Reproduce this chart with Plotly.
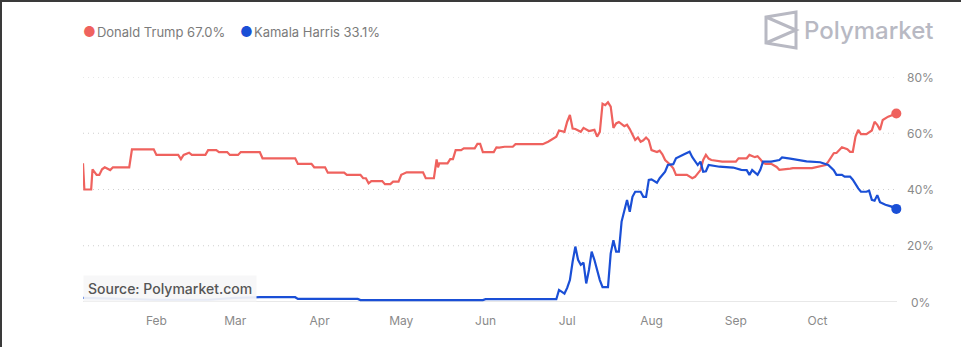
import plotly.graph_objects as go

# ---------------- data ----------------
trump_dates = [
    "2024-01-05 00:00", "2024-01-05 12:00", "2024-01-08 00:00", "2024-01-08 12:00", "2024-01-09", "2024-01-10",
    "2024-01-11", "2024-01-12", "2024-01-13", "2024-01-14", "2024-01-15", "2024-01-16", "2024-01-22", "2024-01-23", "2024-01-31",
    "2024-02-01", "2024-02-09", "2024-02-10", "2024-02-11", "2024-02-13", "2024-02-14", "2024-02-19", "2024-02-20",
    "2024-02-23", "2024-02-24", "2024-02-27", "2024-02-28",
    "2024-03-02", "2024-03-03", "2024-03-10", "2024-03-11", "2024-03-23", "2024-03-24", "2024-03-29", "2024-03-30",
    "2024-04-03", "2024-04-04", "2024-04-10", "2024-04-11", "2024-04-16", "2024-04-17", "2024-04-18", "2024-04-19",
    "2024-04-20", "2024-04-24", "2024-04-25", "2024-04-27", "2024-04-28", "2024-04-30",
    "2024-05-01", "2024-05-03", "2024-05-09", "2024-05-10", "2024-05-13", "2024-05-14 00:00", "2024-05-14 12:00", "2024-05-15",
    "2024-05-18", "2024-05-19", "2024-05-20", "2024-05-21", "2024-05-23", "2024-05-24", "2024-05-28", "2024-05-29",
    "2024-05-30", "2024-05-31",
    "2024-06-04", "2024-06-05", "2024-06-06", "2024-06-08", "2024-06-11", "2024-06-12", "2024-06-22", "2024-06-24",
    "2024-06-27", "2024-06-28", "2024-06-30",
    "2024-07-01", "2024-07-02", "2024-07-03", "2024-07-04", "2024-07-06", "2024-07-07", "2024-07-09", "2024-07-11",
    "2024-07-12", "2024-07-13", "2024-07-14", "2024-07-15", "2024-07-16", "2024-07-17", "2024-07-18", "2024-07-19",
    "2024-07-20", "2024-07-22", "2024-07-23", "2024-07-24", "2024-07-25", "2024-07-26", "2024-07-27", "2024-07-28",
    "2024-07-29", "2024-07-30", "2024-07-31",
    "2024-08-01", "2024-08-03", "2024-08-04", "2024-08-05", "2024-08-06", "2024-08-08", "2024-08-09", "2024-08-10",
    "2024-08-14", "2024-08-16", "2024-08-17", "2024-08-19", "2024-08-20", "2024-08-21", "2024-08-22", "2024-08-23",
    "2024-08-26", "2024-08-27",
    "2024-09-01", "2024-09-02", "2024-09-05", "2024-09-06", "2024-09-08", "2024-09-09", "2024-09-10", "2024-09-11",
    "2024-09-12", "2024-09-14", "2024-09-16", "2024-09-17", "2024-09-21", "2024-09-22", "2024-09-29",
    "2024-10-02", "2024-10-04", "2024-10-05", "2024-10-07", "2024-10-08", "2024-10-10", "2024-10-12", "2024-10-13",
    "2024-10-14", "2024-10-15", "2024-10-16", "2024-10-17", "2024-10-19", "2024-10-20", "2024-10-21", "2024-10-22",
    "2024-10-23", "2024-10-24", "2024-10-25", "2024-10-27", "2024-10-30",
]
trump_pct = [
    49.3, 40.0, 40.0, 47.2, 46.5, 45.2,
    45.2, 47.2, 47.9, 47.5, 46.9, 47.9, 47.9, 54.3, 54.3,
    52.3, 52.3, 50.8, 52.3, 53.1, 52.3, 52.3, 54.0,
    54.0, 53.3, 53.3, 52.3,
    52.3, 53.3, 53.3, 51.1, 51.1, 49.1, 49.1, 47.9,
    47.9, 46.0, 46.0, 45.2, 45.2, 44.0, 44.0, 42.2,
    43.0, 43.0, 41.9, 41.9, 42.8, 42.8,
    45.2, 46.1, 46.1, 44.0, 44.0, 50.7, 47.9, 49.3,
    49.3, 50.8, 50.8, 54.0, 54.0, 54.6, 54.6, 56.2,
    56.2, 53.3,
    53.3, 55.0, 54.9, 55.2, 55.2, 56.1, 56.1, 57.0,
    58.8, 61.0, 60.5,
    64.1, 66.5, 61.7, 61.5, 60.5, 61.9, 60.8, 61.2,
    58.8, 60.5, 70.5, 70.0, 71.0, 69.5, 61.9, 63.5,
    64.0, 62.5, 63.0, 61.5, 59.4, 57.6, 58.5, 57.0,
    57.5, 58.5, 57.5,
    54.0, 53.3, 53.8, 52.5, 50.5, 48.7, 47.5, 45.2,
    45.2, 44.0, 44.5, 46.9, 50.5, 52.3, 51.0, 50.5,
    49.9, 49.9,
    49.9, 51.1, 51.1, 52.3, 51.5, 51.8, 50.8, 49.5,
    49.1, 49.1, 48.0, 47.0, 47.4, 47.6, 47.6,
    48.3, 48.7, 49.9, 52.9, 53.0, 55.0, 54.3, 53.4,
    53.4, 58.8, 61.2, 59.7, 59.7, 60.3, 61.0, 64.1,
    63.0, 61.2, 64.7, 65.9, 67.0,
]

harris_dates = [
    "2024-01-05", "2024-01-20",
    "2024-02-01", "2024-02-20",
    "2024-03-01", "2024-03-10", "2024-03-23", "2024-03-24",
    "2024-04-15", "2024-04-16",
    "2024-05-31",
    "2024-06-01", "2024-06-27", "2024-06-28", "2024-06-30",
    "2024-07-01", "2024-07-02", "2024-07-03", "2024-07-04", "2024-07-05", "2024-07-06", "2024-07-07", "2024-07-08",
    "2024-07-09", "2024-07-10", "2024-07-11", "2024-07-12", "2024-07-13", "2024-07-14", "2024-07-16", "2024-07-17",
    "2024-07-18", "2024-07-19", "2024-07-20", "2024-07-21", "2024-07-22", "2024-07-23", "2024-07-24", "2024-07-25",
    "2024-07-26", "2024-07-28", "2024-07-29", "2024-07-30", "2024-07-31",
    "2024-08-01", "2024-08-03", "2024-08-04", "2024-08-06", "2024-08-07", "2024-08-09", "2024-08-10", "2024-08-13",
    "2024-08-15", "2024-08-16", "2024-08-18", "2024-08-19", "2024-08-20", "2024-08-21", "2024-08-22", "2024-08-26",
    "2024-08-31",
    "2024-09-03", "2024-09-05", "2024-09-06", "2024-09-07", "2024-09-09", "2024-09-10", "2024-09-11", "2024-09-14",
    "2024-09-17", "2024-09-18", "2024-09-21", "2024-09-24", "2024-09-27",
    "2024-10-02", "2024-10-04", "2024-10-05", "2024-10-07", "2024-10-08", "2024-10-10", "2024-10-11", "2024-10-13",
    "2024-10-14", "2024-10-16", "2024-10-17", "2024-10-19", "2024-10-20", "2024-10-21", "2024-10-22", "2024-10-23",
    "2024-10-24", "2024-10-26", "2024-10-28", "2024-10-30",
]
harris_pct = [
    1.5, 1.2,
    0.8, 0.8,
    1.5, 1.7, 1.7, 1.1,
    1.1, 0.7,
    0.7,
    1.0, 1.0, 4.3, 3.0,
    5.0, 7.8, 14.3, 19.7, 15.0, 13.2, 14.0, 6.6,
    11.4, 17.9, 15.0, 11.0, 7.8, 5.3, 5.3, 17.3,
    22.0, 17.9, 17.9, 28.6, 32.1, 36.3, 32.1, 37.4,
    39.2, 39.2, 37.4, 37.4, 43.4,
    43.6, 42.4, 44.0, 46.3, 48.7, 49.0, 51.1, 52.5,
    53.4, 51.5, 48.7, 49.9, 46.3, 46.5, 48.7, 48.1,
    47.8,
    47.0, 46.9, 45.2, 46.9, 45.2, 47.0, 49.9, 49.9,
    50.5, 51.4, 51.0, 50.5, 50.0,
    49.7, 49.1, 48.7, 46.9, 45.2, 45.2, 44.6, 44.6,
    43.5, 40.4, 39.2, 39.2, 39.6, 36.3, 36.0, 38.0,
    35.5, 34.6, 34.0, 33.1,
]

series_names = ["Donald Trump", "Kamala Harris"]
y_ticks = [0, 20, 40, 60, 80]
x_range = ["2024-01-05 00:00", "2024-10-30 06:00"]

RED = "#ef625e"
BLUE = "#1a4fd6"
FONT = "Inter"
GRID = "#cfcfcf"

# ---------------- figure ----------------
W, H = 961, 347
L, R, T, B = 83, 64, 77, 45          # plot area: x 83..897, y 77..302
PW, PH = W - L - R, H - T - B


def px(xp):
    return (xp - L) / PW


def py(yp):
    return (H - B - yp) / PH


fig = go.Figure()
for name, xs, ys, col in [
    (series_names[0], trump_dates, trump_pct, RED),
    (series_names[1], harris_dates, harris_pct, BLUE),
]:
    fig.add_trace(go.Scatter(x=xs, y=ys, mode="lines", name=name,
                             line=dict(color=col, width=2.2), hoverinfo="skip"))
    fig.add_trace(go.Scatter(x=[xs[-1]], y=[ys[-1]], mode="markers",
                             marker=dict(color=col, size=10), cliponaxis=False,
                             hoverinfo="skip", showlegend=False))

annotations = []
# legend-like header
legend_x = [81, 238]
for name, ys, col, lx in zip(series_names, [trump_pct, harris_pct], [RED, BLUE], legend_x):
    annotations.append(dict(
        xref="paper", yref="paper", x=px(lx), y=py(31), xanchor="left", yanchor="middle",
        text=(f"<span style='color:{col};font-size:14px'>●</span>"
              f"<span style='font-size:4px'> </span>{name} {ys[-1]:.1f}%"),
        showarrow=False, font=dict(family=FONT, size=13, color="#7b7b7b")))
# Polymarket brand
annotations.append(dict(
    xref="paper", yref="paper", x=px(936), y=py(30), xanchor="right", yanchor="middle",
    text="Polymarket", showarrow=False,
    font=dict(family=FONT, size=24, color="#b8b9c3", weight=500)))
# y tick labels (centered, right side)
for v in y_ticks:
    annotations.append(dict(
        xref="paper", yref="y", x=px(920.5), y=v, xanchor="center", yanchor="middle",
        text=f"{v}%", showarrow=False, font=dict(family=FONT, size=12, color="#8a8a8a")))
# source label
annotations.append(dict(
    xref="paper", yref="paper", x=px(83), y=py(288), xanchor="left", yanchor="middle",
    text="Source: Polymarket.com", showarrow=False, bgcolor="rgba(246,246,248,0.93)",
    borderpad=4, font=dict(family=FONT, size=14, color="#555555", weight=500)))

shapes = [
    # solid baseline at 0%
    dict(type="line", xref="paper", yref="y", x0=0, x1=1, y0=0, y1=0,
         line=dict(color="#e0e0e0", width=1.5), layer="below"),
    # Polymarket icon
    dict(type="path", xref="paper", yref="paper",
         path=f"M {px(766)} {py(17)} L {px(796)} {py(12)} L {px(796)} {py(48)} L {px(766)} {py(43)} Z "
              f"M {px(766)} {py(17)} L {px(796)} {py(30)} L {px(766)} {py(43)}",
         line=dict(color="#b8b9c3", width=3)),
    # screenshot frame edges
    dict(type="line", xref="paper", yref="paper", x0=px(1), x1=px(1), y0=py(0), y1=py(347),
         line=dict(color="#3a3a3a", width=2)),
    dict(type="line", xref="paper", yref="paper", x0=px(0), x1=px(961), y0=py(1), y1=py(1),
         line=dict(color="#3a3a3a", width=2)),
]
# dotted gridlines at the non-zero ticks (drawn as shapes so the top one shows too)
for v in y_ticks[1:]:
    shapes.append(dict(type="line", xref="paper", yref="y", x0=0, x1=1, y0=v, y1=v,
                       line=dict(color=GRID, width=1, dash="1px,4px"), layer="below"))

fig.update_layout(
    width=W, height=H, margin=dict(l=L, r=R, t=T, b=B, pad=0),
    paper_bgcolor="white", plot_bgcolor="white", showlegend=False,
    font=dict(family=FONT, size=12, color="#8a8a8a"),
    annotations=annotations, shapes=shapes,
    xaxis=dict(type="date", range=x_range, dtick="M1", tick0="2024-01-01", tickformat="%b",
               showgrid=False, zeroline=False, showline=False, ticks="",
               ticklabelstandoff=10, tickfont=dict(family=FONT, size=12, color="#8a8a8a"),
               fixedrange=True),
    yaxis=dict(range=[0, 80], tickvals=y_ticks, showticklabels=False, showgrid=False,
               zeroline=False, showline=False, fixedrange=True),
)

fig.write_html("out.html")
